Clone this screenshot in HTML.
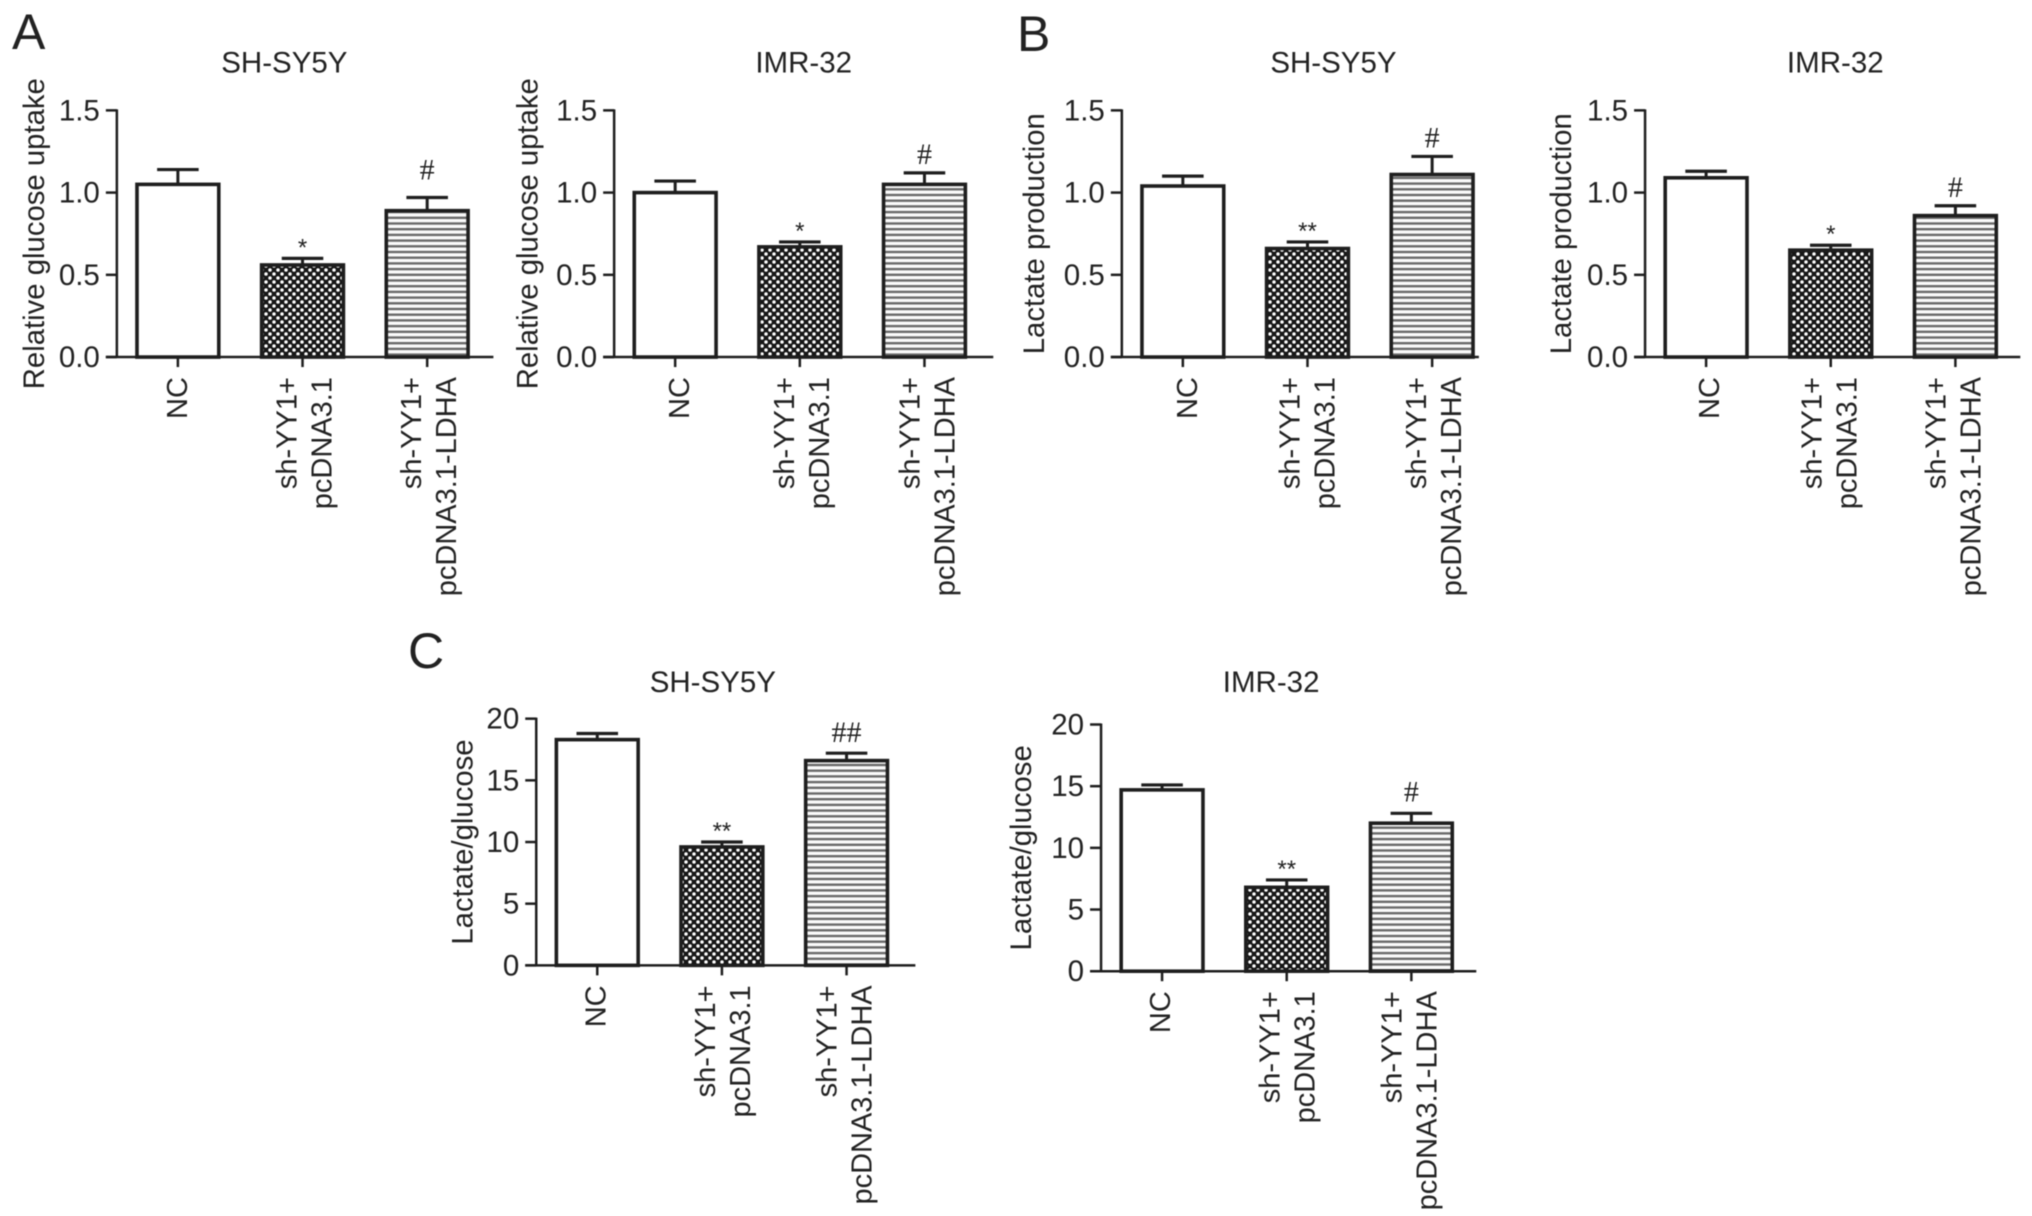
<!DOCTYPE html>
<html lang="en">
<head>
<meta charset="utf-8">
<title>Glucose uptake and lactate production bar charts</title>
<style>
html,body{margin:0;padding:0;background:#fff;width:2032px;height:1216px;overflow:hidden}
svg{display:block;filter:blur(0.6px)}
text{font-family:"Liberation Sans",sans-serif;fill:#222}
</style>
</head>
<body>
<svg id="figure" xmlns="http://www.w3.org/2000/svg" width="2032" height="1216" viewBox="0 0 2032 1216">
  <defs>
    <pattern id="dots" patternUnits="userSpaceOnUse" width="8" height="8">
      <rect width="8" height="8" fill="#161616"/>
      <circle cx="2" cy="2" r="1.75" fill="#fff"/>
      <circle cx="6" cy="6" r="1.75" fill="#fff"/>
    </pattern>
    <pattern id="stripes" patternUnits="userSpaceOnUse" width="8" height="5.7">
      <rect width="8" height="5.7" fill="#fafafa"/>
      <rect width="8" height="2.4" fill="#6a6a6a"/>
    </pattern>
  </defs>
  <text x="12" y="49" font-size="50">A</text>
  <text x="1017" y="51" font-size="50">B</text>
  <text x="408" y="668" font-size="50">C</text>
</svg>
<script>
const categoryLabels = [["NC"], ["sh-YY1+", "pcDNA3.1"], ["sh-YY1+", "pcDNA3.1-LDHA"]];
const ratioTicks = [0, 0.5, 1, 1.5];
const ratioTickLabels = ["0.0", "0.5", "1.0", "1.5"];
const lgTicks = [0, 5, 10, 15, 20];
const lgTickLabels = ["0", "5", "10", "15", "20"];

const a1Means = [1.05, 0.56, 0.89];
const a1Tops = [1.14, 0.60, 0.97];
const a1Marks = ["", "*", "#"];

const a2Means = [1.00, 0.67, 1.05];
const a2Tops = [1.07, 0.70, 1.12];
const a2Marks = ["", "*", "#"];

const b1Means = [1.04, 0.66, 1.11];
const b1Tops = [1.10, 0.70, 1.22];
const b1Marks = ["", "**", "#"];

const b2Means = [1.09, 0.65, 0.86];
const b2Tops = [1.13, 0.68, 0.92];
const b2Marks = ["", "*", "#"];

const c1Means = [18.3, 9.6, 16.6];
const c1Tops = [18.8, 10.0, 17.2];
const c1Marks = ["", "**", "##"];

const c2Means = [14.7, 6.8, 12.0];
const c2Tops = [15.1, 7.4, 12.8];
const c2Marks = ["", "**", "#"];

const NS = "http://www.w3.org/2000/svg";
const svg = document.getElementById("figure");
const S = 2032 / 1565;
const fills = ["#fff", "url(#dots)", "url(#stripes)"];
const INK = "#1e1e1e";

function make(tag, parent, attrs) {
  const el = document.createElementNS(NS, tag);
  for (const k in attrs) el.setAttribute(k, attrs[k]);
  parent.appendChild(el);
  return el;
}

function drawPanel(cfg) {
  const group = make("g", svg, {});
  
  

  const yMax = cfg.ticks[cfg.ticks.length - 1];
  const y0 = cfg.baseY * S, yTop = cfg.topY * S, axisX = cfg.axisX * S;
  const yScale = v => y0 + (yTop - y0) * (v / yMax);
  const slot = 96 * S;
  const firstCenter = axisX + 47 * S;
  const xScale = i => firstCenter + slot * i;
  const barW = 63 * S;
  const capW = 32 * S;

  cfg.means.forEach((mean, i) => {
    const cx = xScale(i);
    const stem = make("line", group, {x1: cx, x2: cx, y1: yScale(mean), y2: yScale(cfg.tops[i]), stroke: INK, "stroke-width": 3});
    
    
    const cap = make("line", group, {x1: cx - capW / 2, x2: cx + capW / 2, y1: yScale(cfg.tops[i]), y2: yScale(cfg.tops[i]), stroke: INK, "stroke-width": 3.2});
    
    
    const bar = make("rect", group, {x: cx - barW / 2, y: yScale(mean), width: barW, height: y0 - yScale(mean), fill: fills[i], stroke: INK, "stroke-width": 3.6});
    
    

    if (cfg.marks[i]) {
      const isHash = cfg.marks[i].charAt(0) === "#";
      const mark = make("text", group, {x: cx, y: yScale(cfg.tops[i]) - (isHash ? 9 + cfg.hashLift : 3), "text-anchor": "middle", "font-size": isHash ? 30 : 24, style: isHash ? 'font-family:"Liberation Serif",serif' : ""});
      mark.textContent = cfg.marks[i];
      
      
    }

    const tick = make("line", group, {x1: cx, x2: cx, y1: y0, y2: y0 + 10, stroke: INK, "stroke-width": 2.5});
    
    

    const lines = categoryLabels[i];
    lines.forEach((line, j) => {
      const offset = lines.length === 1 ? 9 : (j === 0 ? -6 : 29);
      const bx = cx + offset + cfg.labelNudge[i];
      const by = y0 + 20;
      const label = make("text", group, {x: bx, y: by, "text-anchor": "end", "font-size": 29, transform: `rotate(-90 ${bx} ${by})`});
      label.textContent = line;
      
      
    });
  });

  const yAxis = make("line", group, {x1: axisX, x2: axisX, y1: yTop - 1, y2: y0 + 1, stroke: INK, "stroke-width": 2.5});
  
  
  const xAxis = make("line", group, {x1: axisX - 11, x2: cfg.endX * S, y1: y0, y2: y0, stroke: INK, "stroke-width": 2.5});
  
  

  cfg.ticks.forEach((t, i) => {
    const ty = yScale(t);
    const tick = make("line", group, {x1: axisX - 11, x2: axisX, y1: ty, y2: ty, stroke: INK, "stroke-width": 2.5});
    
    
    const label = make("text", group, {x: axisX - 17, y: ty + 10, "text-anchor": "end", "font-size": 29.5});
    label.textContent = cfg.tickLabels[i];
    
    
  });

  const title = make("text", group, {x: cfg.titleX * S, y: cfg.titleY * S, "text-anchor": "middle", "font-size": 29.5});
  title.textContent = cfg.title;
  
  

  const lx = cfg.yLabelX * S, ly = (cfg.baseY + cfg.topY) / 2 * S;
  const yLabel = make("text", group, {x: lx, y: ly, "text-anchor": "middle", "font-size": 29.3, transform: `rotate(-90 ${lx} ${ly})`});
  yLabel.textContent = cfg.yLabel;
  
  
}

drawPanel({name: "panel-a-sh-sy5y", title: "SH-SY5Y", yLabel: "Relative glucose uptake", ticks: ratioTicks, tickLabels: ratioTickLabels, means: a1Means, tops: a1Tops, marks: a1Marks, axisX: 90, baseY: 275, topY: 85, endX: 380, titleX: 219, titleY: 56, yLabelX: 34, labelNudge: [0, 0, 0], hashLift: 9});
drawPanel({name: "panel-a-imr-32", title: "IMR-32", yLabel: "Relative glucose uptake", ticks: ratioTicks, tickLabels: ratioTickLabels, means: a2Means, tops: a2Tops, marks: a2Marks, axisX: 473, baseY: 275, topY: 85, endX: 765, titleX: 619, titleY: 56, yLabelX: 414, labelNudge: [5, 0, 1], hashLift: 0});
drawPanel({name: "panel-b-sh-sy5y", title: "SH-SY5Y", yLabel: "Lactate production", ticks: ratioTicks, tickLabels: ratioTickLabels, means: b1Means, tops: b1Tops, marks: b1Marks, axisX: 864, baseY: 275, topY: 85, endX: 1139, titleX: 1027, titleY: 56, yLabelX: 804, labelNudge: [5, -2, 0], hashLift: 0});
drawPanel({name: "panel-b-imr-32", title: "IMR-32", yLabel: "Lactate production", ticks: ratioTicks, tickLabels: ratioTickLabels, means: b2Means, tops: b2Tops, marks: b2Marks, axisX: 1267, baseY: 275, topY: 85, endX: 1556, titleX: 1413.5, titleY: 56, yLabelX: 1210, labelNudge: [4, -3, -4], hashLift: 0});
drawPanel({name: "panel-c-sh-sy5y", title: "SH-SY5Y", yLabel: "Lactate/glucose", ticks: lgTicks, tickLabels: lgTickLabels, means: c1Means, tops: c1Tops, marks: c1Marks, axisX: 413, baseY: 743.5, topY: 553.5, endX: 705, titleX: 549, titleY: 533, yLabelX: 364, labelNudge: [-1, -1, -4], hashLift: 2});
drawPanel({name: "panel-c-imr-32", title: "IMR-32", yLabel: "Lactate/glucose", ticks: lgTicks, tickLabels: lgTickLabels, means: c2Means, tops: c2Tops, marks: c2Marks, axisX: 848, baseY: 748, topY: 558, endX: 1137, titleX: 979, titleY: 533, yLabelX: 794, labelNudge: [-1, -1, -4], hashLift: 3});
</script>
</body>
</html>
